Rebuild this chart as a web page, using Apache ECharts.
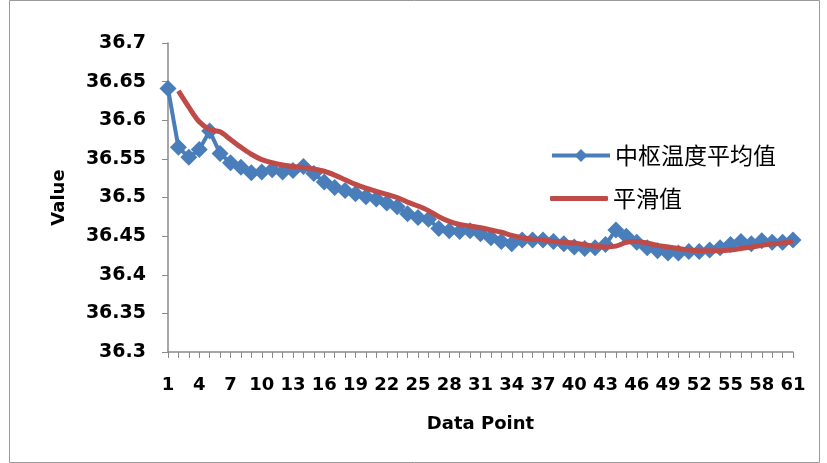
<!DOCTYPE html>
<html>
<head>
<meta charset="utf-8">
<script src="https://cdn.jsdelivr.net/npm/echarts@6/dist/echarts.min.js"></script>
<style>
  html, body { margin: 0; padding: 0; background: #fff; }
  #chart { width: 827px; height: 463px; }
</style>
</head>
<body>
<div id="chart"></div>
<script>
// Sample index 1..61
const categories = Array.from({ length: 61 }, (_, i) => String(i + 1));

// 中枢温度平均值
const avgTemp = [
  36.641, 36.565, 36.552, 36.562, 36.586, 36.557, 36.545, 36.539, 36.532, 36.533,
  36.536, 36.533, 36.535, 36.540, 36.531, 36.520, 36.513, 36.509, 36.505, 36.501,
  36.498, 36.493, 36.488, 36.479, 36.474, 36.472, 36.460, 36.457, 36.456, 36.457,
  36.453, 36.448, 36.443, 36.440, 36.445, 36.445, 36.445, 36.443, 36.440, 36.436,
  36.434, 36.435, 36.439, 36.458, 36.450, 36.442, 36.435, 36.431, 36.428, 36.428,
  36.430, 36.430, 36.432, 36.435, 36.439, 36.443, 36.440, 36.444, 36.442, 36.442,
  36.445
];

// 平滑值 (starts from the second sample)
const smoothed = [
  null,   36.638, 36.617, 36.598, 36.588, 36.585, 36.575, 36.565, 36.556, 36.549,
  36.545, 36.542, 36.540, 36.539, 36.537, 36.534, 36.529, 36.523, 36.517, 36.512,
  36.508, 36.504, 36.500, 36.494, 36.489, 36.483, 36.475, 36.469, 36.465, 36.463,
  36.461, 36.458, 36.455, 36.451, 36.448, 36.446, 36.445, 36.443, 36.442, 36.441,
  36.439, 36.437, 36.436, 36.437, 36.442, 36.443, 36.441, 36.438, 36.436, 36.434,
  36.432, 36.431, 36.431, 36.431, 36.432, 36.434, 36.436, 36.438, 36.440, 36.441,
  36.443
];

const chart = echarts.init(document.getElementById('chart'), null, { renderer: 'canvas' });

const axisColor = '#8a8a8a';
const blue = '#4a7ebb';
const red = '#be4b48';
const labelFont = { fontFamily: 'DejaVu Sans', fontWeight: 'bold', fontSize: 18, color: '#000' };
const legendText = { fontFamily: 'Noto Sans CJK SC', fontSize: 23, color: '#000' };

chart.setOption({
  animation: false,
  backgroundColor: '#fff',
  graphic: [{
    type: 'rect',
    shape: { x: 9.5, y: 0.5, width: 810, height: 462 },
    style: { fill: 'none', stroke: '#9a9a9a', lineWidth: 1 },
    silent: true
  }],
  grid: { left: 168, right: 34, top: 43, bottom: 111, containLabel: false },
  legend: [
    {
      left: 545,
      top: 139,
      itemWidth: 58,
      itemHeight: 16,
      lineStyle: { width: 4 },
      textStyle: legendText,
      data: ['中枢温度平均值']
    },
    {
      left: 545,
      top: 182,
      itemWidth: 58,
      itemHeight: 5,
      textStyle: legendText,
      data: [{ name: '平滑值', icon: 'roundRect' }]
    }
  ],
  xAxis: {
    type: 'category',
    data: categories,
    boundaryGap: false,
    name: 'Data Point',
    nameLocation: 'middle',
    nameGap: 63,
    nameTextStyle: { fontFamily: 'DejaVu Sans', fontWeight: 'bold', fontSize: 18, color: '#000' },
    axisLine: { lineStyle: { color: axisColor, width: 1.5 } },
    axisTick: { show: true, interval: 0, length: 6, lineStyle: { color: axisColor } },
    axisLabel: Object.assign({ interval: 2, margin: 24 }, labelFont),
    splitLine: { show: false }
  },
  yAxis: {
    type: 'value',
    min: 36.3,
    max: 36.7,
    interval: 0.05,
    name: 'Value',
    nameLocation: 'middle',
    nameGap: 100,
    nameRotate: 90,
    nameTextStyle: { fontFamily: 'DejaVu Sans', fontWeight: 'bold', fontSize: 18, color: '#000' },
    axisLine: { show: true, lineStyle: { color: axisColor, width: 1.5 } },
    axisTick: { show: true, length: 6, lineStyle: { color: axisColor } },
    axisLabel: Object.assign({
      margin: 22,
      formatter: v => String(+v.toFixed(2))
    }, labelFont, { fontSize: 19 }),
    splitLine: { show: false }
  },
  series: [
    {
      name: '中枢温度平均值',
      type: 'line',
      data: avgTemp,
      symbol: 'diamond',
      symbolSize: 17,
      showSymbol: true,
      showAllSymbol: true,
      lineStyle: { color: blue, width: 4 },
      itemStyle: { color: blue },
      z: 2
    },
    {
      name: '平滑值',
      type: 'line',
      data: smoothed,
      symbol: 'none',
      smooth: 0.3,
      lineStyle: { color: red, width: 5 },
      itemStyle: { color: red },
      z: 3
    }
  ]
});
</script>
</body>
</html>
